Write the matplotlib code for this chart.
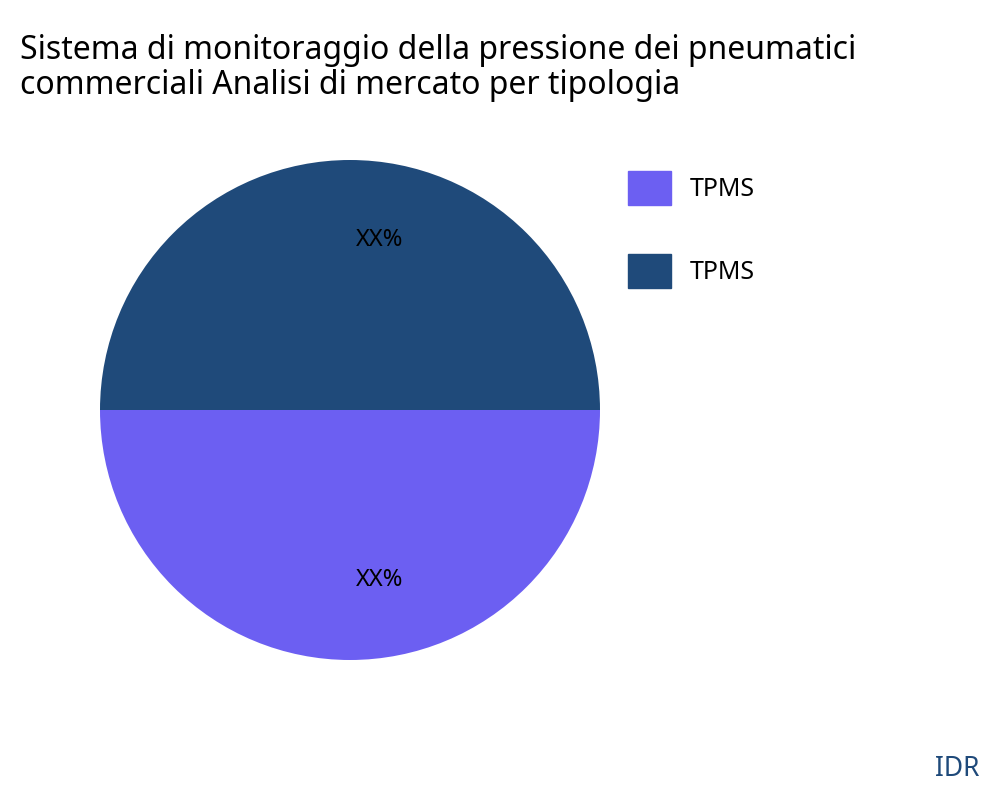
import matplotlib
matplotlib.use("Agg")
import matplotlib.pyplot as plt
from matplotlib.patches import Patch

plt.rcParams['font.family'] = ['Noto Sans', 'DejaVu Sans']

categories = ["TPMS", "TPMS"]
values = [50, 50]
labels = ["XX%", "XX%"]
colors = ["#6C5FF2", "#1F4A7A"]

fig = plt.figure(figsize=(10, 8), dpi=100)
ax = fig.add_axes([0.1, 0.175, 0.5, 0.625])
wedges, texts = ax.pie(values, colors=colors, startangle=180, counterclock=True,
                       labels=labels, labeldistance=0.68,
                       textprops=dict(fontsize=17, color="black"))
for t in texts:
    x, y = t.get_position()
    t.set_position((x + 0.12, y))
    t.set_ha("center")
ax.set_xlim(-1, 1)
ax.set_ylim(-1, 1)
ax.set_aspect("equal")

fig.text(0.02, 0.915, "Sistema di monitoraggio della pressione dei pneumatici\ncommerciali Analisi di mercato per tipologia",
         fontsize=23, ha="left", va="center", linespacing=1.05)

handles = [Patch(color=c, label=l) for c, l in zip(colors, categories)]
fig.legend(handles=handles, loc="upper left", bbox_to_anchor=(0.605, 0.815),
           frameon=False, fontsize=18, handlelength=1.75, handleheight=1.75,
           labelspacing=1.95, handletextpad=0.75)

fig.text(0.98, 0.039, "IDR", fontsize=19, color="#1F4A7A", ha="right", va="center")
fig.savefig("out.png", dpi=100)
